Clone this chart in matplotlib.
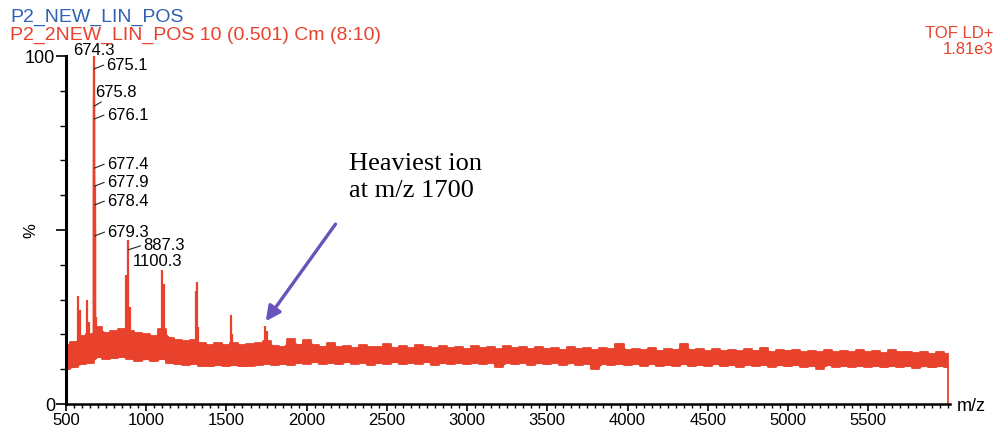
import matplotlib
matplotlib.use("Agg")
import matplotlib.pyplot as plt
import numpy as np
from matplotlib.ticker import MultipleLocator, FixedLocator

plt.rcParams['font.family'] = ['Liberation Sans', 'DejaVu Sans']

# ---------------- data ----------------
# noise band envelope, sampled every 50 m/z from 500 to 6000 (% intensity)
band_mz = list(range(500, 6001, 50))
band_upper = [17.0, 17.8, 19.5, 20.0, 22.0, 20.5, 21.0, 21.5, 21.0, 20.5,
              20.0, 19.5, 21.5, 19.0, 18.5, 18.0, 18.5, 17.5, 17.0, 17.5,
              17.0, 17.5, 17.0, 17.2, 17.5, 18.0, 16.8, 16.5, 18.7, 17.0,
              18.5, 17.0, 16.5, 17.5, 16.4, 16.8, 16.2, 17.0, 16.5, 16.3,
              17.2, 16.2, 16.6, 16.0, 16.9, 16.3, 16.0, 16.7, 16.1, 16.5,
              15.9, 16.8, 16.0, 16.4, 15.8, 16.6, 16.0, 16.3, 15.7, 16.4,
              15.9, 16.2, 15.6, 16.3, 15.8, 16.0, 15.5, 16.1, 15.7, 17.2,
              15.6, 15.9, 15.4, 16.0, 15.3, 15.8, 15.5, 17.2, 15.4, 15.7,
              15.2, 15.8, 15.3, 15.6, 15.1, 15.9, 15.2, 16.2, 15.0, 15.5,
              15.1, 15.4, 14.9, 15.3, 15.0, 15.6, 14.8, 15.2, 14.9, 15.5,
              14.8, 15.1, 14.7, 15.4, 14.8, 15.0, 14.6, 15.0, 14.5, 14.8,
              14.4]
band_lower = [10.0, 10.6, 11.5, 11.8, 13.5, 13.0, 13.2, 13.5, 13.0, 12.5,
              12.8, 12.3, 13.0, 11.8, 11.5, 11.2, 11.6, 11.0, 10.8, 11.2,
              10.9, 11.1, 10.8, 11.0, 11.3, 11.6, 11.2, 11.5, 11.3, 11.8,
              11.6, 12.0, 11.5, 11.9, 11.4, 12.0, 11.6, 11.9, 11.3, 11.8,
              11.5, 12.0, 11.4, 11.9, 11.6, 12.0, 11.3, 11.8, 11.5, 11.9,
              11.4, 11.8, 11.5, 11.9, 10.5, 11.8, 11.4, 11.9, 11.3, 11.7,
              11.4, 11.8, 11.2, 11.7, 11.3, 11.6, 10.0, 11.6, 11.2, 11.5,
              11.1, 11.5, 11.0, 11.4, 10.9, 11.3, 11.0, 11.4, 10.8, 11.3,
              11.0, 11.4, 10.8, 11.2, 10.6, 11.3, 10.9, 11.2, 10.7, 11.1,
              10.8, 11.2, 10.6, 11.0, 10.2, 11.1, 10.7, 11.0, 10.6, 11.0,
              10.7, 11.0, 10.5, 10.9, 10.6, 10.9, 10.4, 10.8, 10.5, 10.8,
              10.6]

# spikes rising out of the noise (m/z, % intensity)
peak_mz = [576, 587, 632, 645, 674.3, 675.1, 675.8, 676.1, 677.4, 677.9,
           678.4, 679.3, 686, 877, 887.3, 897, 1100.3, 1110, 1311, 1318,
           1325, 1529, 1535, 1740, 1752]
peak_int = [31, 27, 30, 23.5, 100, 97, 88, 83, 68, 63,
            58, 50, 25, 37, 47, 28, 38.5, 34.5, 32.5, 35,
            22, 25.5, 20, 22.4, 21]

# labelled peaks: m/z, height where the leader touches the spike
label_mz = ["675.1", "675.8", "676.1", "677.4", "677.9", "678.4", "679.3", "887.3"]
label_y = [96.3, 85.6, 81.9, 67.8, 62.6, 57.2, 48.3, 44.3]

x_ticks = list(range(500, 5501, 500))
y_ticks = [0, 50, 100]
y_ticklabels = ["0", "", "100"]

RED = '#e8412c'
BLUE = '#2f62b4'
PURPLE = '#6a52bd'

# ---------------- figure ----------------
fig = plt.figure(figsize=(9.96, 4.27), dpi=100)
ax = fig.add_axes([66 / 996, 22 / 427, (950 - 66) / 996, (405 - 57) / 427])

ax.fill_between(band_mz, band_lower, band_upper, color=RED, lw=0, step='mid')
ax.step(band_mz, band_upper, where='mid', color=RED, lw=1.3)
ax.step(band_mz, band_lower, where='mid', color=RED, lw=1.3)
ax.fill_between(band_mz, band_lower, band_upper, color=RED, lw=0)
base = np.interp(peak_mz, band_mz, band_lower)
ax.vlines(peak_mz, base, peak_int, color=RED, lw=1.6)
# closing drop at the end of the acquired range
ax.vlines(band_mz[-1], 0, band_lower[-1], color=RED, lw=1.3)

ax.set_xlim(500, 6010)
ax.set_ylim(0, 100)
for s in ['top', 'right']:
    ax.spines[s].set_visible(False)
ax.spines['left'].set_linewidth(2.2)
ax.spines['bottom'].set_linewidth(1.8)
ax.spines['left'].set_zorder(5)

ax.xaxis.set_major_locator(FixedLocator(x_ticks))
ax.xaxis.set_minor_locator(MultipleLocator(50))
ax.set_xticklabels([str(v) for v in x_ticks])
ax.yaxis.set_major_locator(FixedLocator(y_ticks))
ax.yaxis.set_minor_locator(MultipleLocator(10))
ax.set_yticklabels(y_ticklabels)
ax.tick_params(axis='x', which='major', length=5, width=1.2, pad=0.5, labelsize=12)
ax.tick_params(axis='x', which='minor', length=3, width=1.0)
ax.tick_params(axis='y', which='major', length=7, width=1.2, pad=1, labelsize=13)
ax.tick_params(axis='y', which='minor', length=4, width=1.0)

ax.text(-0.04, 0.5, "%", transform=ax.transAxes, rotation=90,
        ha='center', va='center', fontsize=12)
ax.text(1.008, -0.005, "m/z", transform=ax.transAxes, ha='left', va='center',
        fontsize=13)

# peak labels
ax.annotate("674.3", xy=(674.3, 100), xytext=(0, 4.5), textcoords='offset points',
            ha='center', va='center', fontsize=12, annotation_clip=False)
for lab, yy in zip(label_mz, label_y):
    mz = float(lab)
    if lab == "675.8":
        ax.annotate(lab, xy=(mz, yy), xytext=(1, 5), textcoords='offset points',
                    ha='left', va='bottom', fontsize=12,
                    arrowprops=dict(arrowstyle='-', lw=0.8, color='#222222',
                                    shrinkA=0, shrinkB=0, relpos=(0.25, 0)))
    else:
        dx = 11 if lab == "887.3" else 9
        ax.annotate(lab, xy=(mz, yy), xytext=(dx, 3.5), textcoords='offset points',
                    ha='left', va='center', fontsize=12,
                    arrowprops=dict(arrowstyle='-', lw=0.8, color='#222222',
                                    shrinkA=0, shrinkB=0, relpos=(0, 0.5)))
ax.annotate("1100.3", xy=(1100.3, 41.3), xytext=(-21, 0), textcoords='offset points',
            ha='left', va='center', fontsize=12)

# annotation arrow
ax.annotate("", xy=(1745, 23.8), xytext=(2180, 51.7),
            arrowprops=dict(arrowstyle='-|>', color=PURPLE, lw=2.4,
                            mutation_scale=22, shrinkA=0, shrinkB=0))
ax.text(2265, 65.3, "Heaviest ion\nat m/z 1700", family=['Liberation Serif'],
        fontsize=19, ha='left', va='center', linespacing=1.3)

# header texts
fig.text(10 / 996, 1 - 17 / 427, "P2_NEW_LIN_POS", color=BLUE, fontsize=14,
         ha='left', va='center')
fig.text(10 / 996, 1 - 35 / 427, "P2_2NEW_LIN_POS 10 (0.501) Cm (8:10)", color=RED,
         fontsize=14, ha='left', va='center')
fig.text(993 / 996, 1 - 33 / 427, "TOF LD+", color=RED, fontsize=12,
         ha='right', va='center')
fig.text(993 / 996, 1 - 49 / 427, "1.81e3", color=RED, fontsize=12,
         ha='right', va='center')

fig.savefig("out.png", dpi=100)
